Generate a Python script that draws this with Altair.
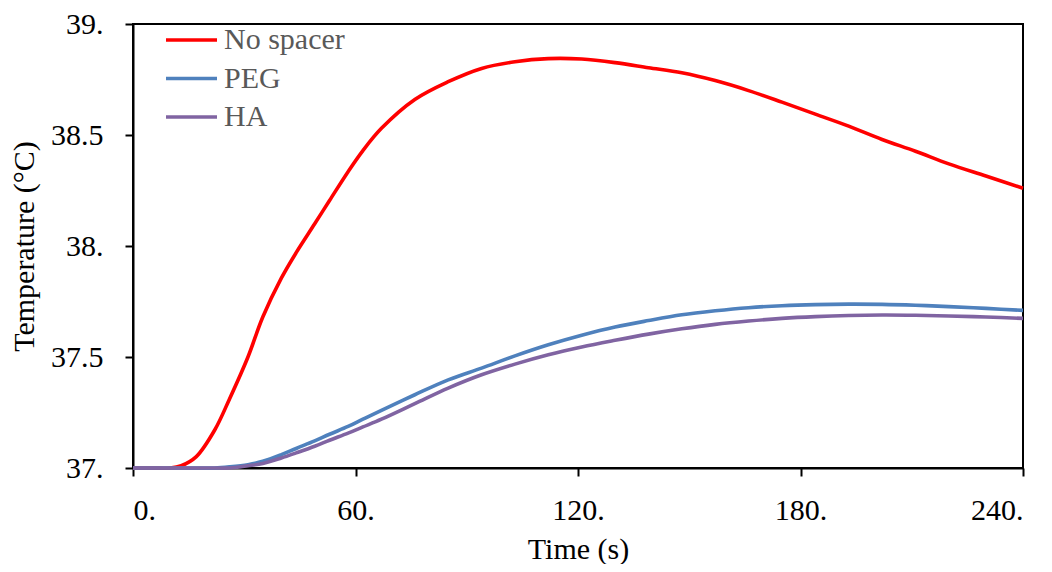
import altair as alt
import pandas as pd

time_s = [0, 5, 10, 13, 17, 22, 26, 31, 35, 40, 44, 49, 53, 58, 62, 67, 76, 85, 94,
          103, 112, 121, 130, 139, 148, 157, 166, 175, 184, 193, 202, 211, 220, 230, 240]

no_spacer = [37.0, 37.0, 37.0, 37.01, 37.05, 37.17, 37.31, 37.50, 37.68, 37.855, 37.97,
             38.10, 38.205, 38.335, 38.43, 38.53, 38.66, 38.74, 38.80, 38.83, 38.844,
             38.842, 38.826, 38.803, 38.78, 38.745, 38.70, 38.648, 38.594, 38.54, 38.48,
             38.427, 38.37, 38.315, 38.26]

peg = [37.0, 37.0, 37.0, 37.0, 37.0, 37.0, 37.005, 37.015, 37.03, 37.06, 37.088,
       37.122, 37.152, 37.187, 37.22, 37.26, 37.33, 37.397, 37.45, 37.505, 37.555,
       37.598, 37.635, 37.664, 37.69, 37.708, 37.722, 37.731, 37.736, 37.738, 37.737,
       37.733, 37.727, 37.719, 37.71]

ha = [37.0, 37.0, 37.0, 37.0, 37.0, 37.0, 37.0, 37.01, 37.02, 37.045, 37.068,
      37.098, 37.125, 37.157, 37.185, 37.22, 37.29, 37.36, 37.42, 37.468, 37.51,
      37.545, 37.575, 37.603, 37.627, 37.647, 37.662, 37.674, 37.682, 37.687, 37.689,
      37.688, 37.685, 37.68, 37.674]

series_names = ["No spacer", "PEG", "HA"]
series_colors = ["#FF0000", "#4F81BD", "#8064A2"]
x_ticks = [0, 60, 120, 180, 240]
y_ticks = [37.0, 37.5, 38.0, 38.5, 39.0]

rows = []
for name, vals in zip(series_names, [no_spacer, peg, ha]):
    for t, v in zip(time_s, vals):
        rows.append({"Time": t, "Temp": v, "Series": name})
df = pd.DataFrame(rows)

FONT = "Liberation Serif"
label_expr = "datum.value % 1 == 0 ? format(datum.value, 'd') + '.' : format(datum.value, '.1f')"

chart = alt.Chart(df).mark_line(strokeWidth=3.6, interpolate="catmull-rom").encode(
    x=alt.X("Time:Q",
            scale=alt.Scale(domain=[0, 240], nice=False),
            axis=alt.Axis(title="Time (s)", values=x_ticks, labelExpr=label_expr,
                          grid=False, tickSize=8, labelPadding=19, titlePadding=9)),
    y=alt.Y("Temp:Q",
            scale=alt.Scale(domain=[37, 39], nice=False, zero=False),
            axis=alt.Axis(title="Temperature (°C)", values=y_ticks, labelExpr=label_expr,
                          grid=False, tickSize=8, labelPadding=22, titlePadding=11)),
    color=alt.Color("Series:N",
                    scale=alt.Scale(domain=series_names, range=series_colors),
                    legend=alt.Legend(title=None, orient="none", legendX=31, legendY=-3,
                                      symbolType="stroke", symbolSize=2601,
                                      symbolStrokeWidth=3.6, labelFont=FONT,
                                      labelFontSize=30, labelColor="#595959",
                                      labelOffset=5, clipHeight=38, rowPadding=0.5,
                                      padding=0)),
    order=alt.Order("Time:Q"),
).properties(
    width=890, height=444,
    autosize=alt.AutoSizeParams(type="none"),
    padding={"left": 125, "top": 16, "right": 20, "bottom": 96},
).configure_view(
    stroke="black", strokeWidth=2
).configure_axis(
    labelFont=FONT, titleFont=FONT, labelFontSize=30, titleFontSize=30,
    labelColor="black", titleColor="black", titleFontWeight="normal",
    domainColor="black", domainWidth=2, tickColor="black", tickWidth=2,
).configure_legend(
    labelFont=FONT
)

chart.save("out.html", embed_options={"renderer": "svg", "actions": False})
